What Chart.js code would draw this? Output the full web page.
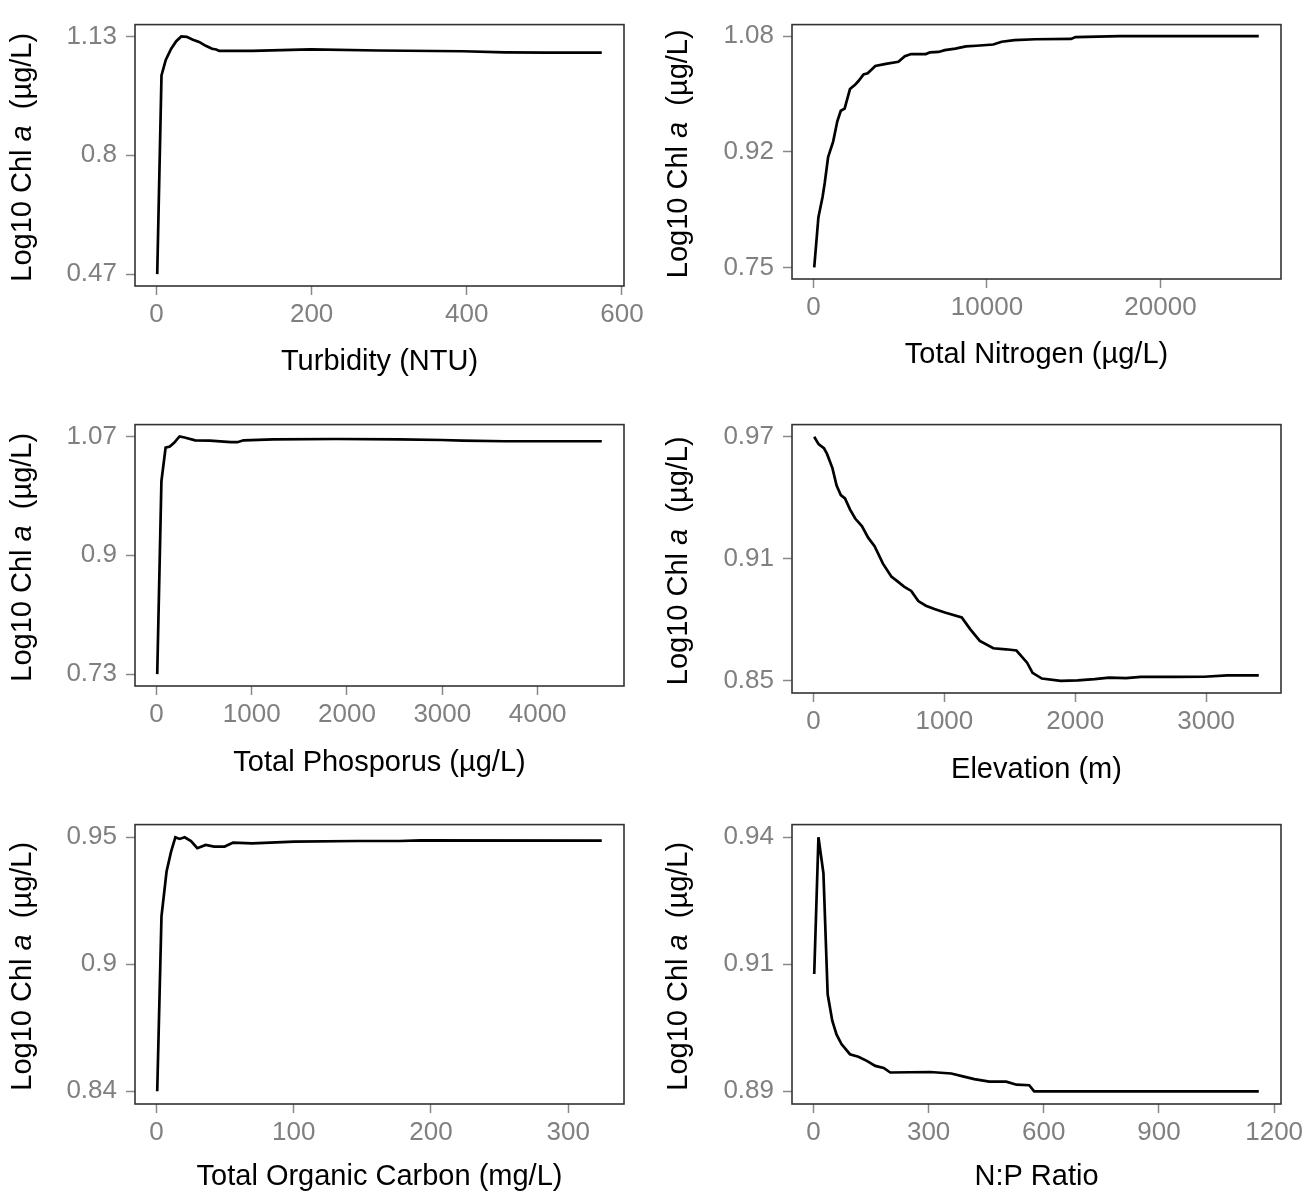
<!DOCTYPE html>
<html>
<head>
  <title>Log10 Chl a partial dependence</title>
  <script src="https://cdn.jsdelivr.net/npm/chart.js"></script>
  <style>
    body { margin: 0; background: #fff; }
    canvas { position: absolute; }
  </style>
</head>
<body>
  <canvas id="p1"></canvas>
  <canvas id="p2"></canvas>
  <canvas id="p3"></canvas>
  <canvas id="p4"></canvas>
  <canvas id="p5"></canvas>
  <canvas id="p6"></canvas>

  <script>
    // Turbidity
    const turbX = [1, 6.5, 12, 19, 25.5, 32, 39, 47, 55, 63.5, 71.7, 77, 81, 123, 199, 286, 395, 449, 503, 574];
    const turbY = [0.47, 1.022, 1.065, 1.096, 1.117, 1.13, 1.129, 1.121, 1.115, 1.104, 1.096, 1.094, 1.09, 1.09, 1.094, 1.091, 1.089, 1.086, 1.085, 1.085];
    const turbXTicks = [0, 200, 400, 600];
    const turbYTicks = [0.47, 0.8, 1.13];
    const turbYLabels = ["0.47", "0.8", "1.13"];

    // Total nitrogen
    const tnX = [50, 290, 530, 655, 850, 1140, 1380, 1580, 1800, 2110, 2400, 2600, 2890, 3130, 3570, 4175, 4900, 5270, 5630, 6480, 6720, 7210, 7570, 8180, 8790, 9390, 10360, 10850, 11580, 12790, 14850, 15100, 17650, 25660];
    const tnY = [0.7505, 0.822, 0.851, 0.871, 0.908, 0.930, 0.959, 0.974, 0.977, 1.005, 1.011, 1.0165, 1.026, 1.0275, 1.038, 1.041, 1.044, 1.052, 1.055, 1.055, 1.0575, 1.058, 1.0606, 1.0628, 1.066, 1.0668, 1.0686, 1.0725, 1.0748, 1.0761, 1.0765, 1.0792, 1.0805, 1.0805];
    const tnXTicks = [0, 10000, 20000];
    const tnYTicks = [0.7505, 0.9155, 1.0805];
    const tnYLabels = ["0.75", "0.92", "1.08"];

    // Total phosphorus
    const tpX = [9, 53, 97, 141, 186, 243, 296, 407, 561, 782, 849, 915, 1225, 1888, 2551, 2993, 3214, 3656, 4673];
    const tpY = [0.73, 1.006, 1.054, 1.0555, 1.061, 1.07, 1.0686, 1.0645, 1.0641, 1.0618, 1.0618, 1.0645, 1.0659, 1.0664, 1.0659, 1.065, 1.0641, 1.0632, 1.0632];
    const tpXTicks = [0, 1000, 2000, 3000, 4000];
    const tpYTicks = [0.73, 0.9, 1.07];
    const tpYLabels = ["0.73", "0.9", "1.07"];

    // Elevation
    const elevX = [6, 39, 80, 103, 145, 177, 209, 241, 280, 319, 370, 418, 467, 531, 595, 640, 692, 747, 801, 859, 924, 1004, 1133, 1197, 1271, 1374, 1471, 1551, 1632, 1674, 1745, 1889, 2018, 2147, 2259, 2388, 2501, 2758, 2984, 3161, 3402];
    const elevY = [0.97, 0.9664, 0.9644, 0.9617, 0.9546, 0.946, 0.9413, 0.9397, 0.9342, 0.9298, 0.9261, 0.9204, 0.9162, 0.9076, 0.9013, 0.899, 0.8963, 0.8942, 0.8892, 0.8869, 0.8853, 0.8836, 0.8812, 0.8754, 0.8696, 0.866, 0.8655, 0.8649, 0.8589, 0.8539, 0.8511, 0.85, 0.8502, 0.8508, 0.8516, 0.8513, 0.8519, 0.8519, 0.852, 0.8527, 0.8527];
    const elevXTicks = [0, 1000, 2000, 3000];
    const elevYTicks = [0.85, 0.91, 0.97];
    const elevYLabels = ["0.85", "0.91", "0.97"];

    // Total organic carbon
    const tocX = [0.6, 3.7, 7.4, 10.7, 13.8, 16.9, 20.6, 25.2, 29.8, 35.9, 42.1, 49.7, 55.9, 69.7, 100.4, 146.5, 177.2, 192.5, 324.5];
    const tocY = [0.8405, 0.9163, 0.9357, 0.9443, 0.9505, 0.9498, 0.9505, 0.9489, 0.9458, 0.9472, 0.9465, 0.9465, 0.9482, 0.9479, 0.9486, 0.9489, 0.9489, 0.9492, 0.9491];
    const tocXTicks = [0, 100, 200, 300];
    const tocYTicks = [0.8405, 0.8955, 0.9505];
    const tocYLabels = ["0.84", "0.9", "0.95"];

    // N:P ratio
    const npX = [2, 13, 26, 37, 49, 60, 73, 95, 117, 139, 161, 183, 200, 304, 359, 392, 419, 458, 502, 529, 562, 575, 688, 1160];
    const npY = [0.9126, 0.9395, 0.9324, 0.9086, 0.9034, 0.9007, 0.8988, 0.8968, 0.8963, 0.8955, 0.8945, 0.8941, 0.8932, 0.8933, 0.893, 0.8924, 0.8919, 0.8914, 0.8914, 0.8908, 0.8907, 0.8895, 0.8895, 0.8895];
    const npXTicks = [0, 300, 600, 900, 1200];
    const npYTicks = [0.8895, 0.9145, 0.9395];
    const npYLabels = ["0.89", "0.91", "0.94"];

    const FONT = '"Liberation Sans", Arial, Helvetica, sans-serif';
    Chart.defaults.font.family = FONT;

    // page layout: canvas [left, top, w, h], plot box [left, top, right, bottom], x title centre y
    const panels = [
      { id: "p1", xs: turbX, ys: turbY, xt: turbXTicks, yt: turbYTicks, yl: turbYLabels, title: "Turbidity (NTU)",
        canvas: [0, 0, 656, 395], box: [135, 7, 624, 286], titleY: 362 },
      { id: "p2", xs: tnX, ys: tnY, xt: tnXTicks, yt: tnYTicks, yl: tnYLabels, title: "Total Nitrogen (µg/L)",
        canvas: [656, 0, 660, 395], box: [792, 6, 1281, 279], titleY: 355 },
      { id: "p3", xs: tpX, ys: tpY, xt: tpXTicks, yt: tpYTicks, yl: tpYLabels, title: "Total Phosporus (µg/L)",
        canvas: [0, 400, 656, 395], box: [135, 415, 624, 686], titleY: 763 },
      { id: "p4", xs: elevX, ys: elevY, xt: elevXTicks, yt: elevYTicks, yl: elevYLabels, title: "Elevation (m)",
        canvas: [656, 400, 660, 395], box: [792, 415, 1281, 693], titleY: 770 },
      { id: "p5", xs: tocX, ys: tocY, xt: tocXTicks, yt: tocYTicks, yl: tocYLabels, title: "Total Organic Carbon (mg/L)",
        canvas: [0, 800, 656, 398], box: [135, 824, 624, 1104], titleY: 1177 },
      { id: "p6", xs: npX, ys: npY, xt: npXTicks, yt: npYTicks, yl: npYLabels, title: "N:P Ratio",
        canvas: [656, 800, 660, 398], box: [792, 824, 1281, 1104], titleY: 1177 }
    ];

    // panel border + y title with italic "a"
    const frame = {
      id: "frame",
      afterDraw(chart) {
        const { ctx, chartArea: a } = chart;
        ctx.save();
        ctx.strokeStyle = "#333";
        ctx.lineWidth = 1.6;
        ctx.strokeRect(a.left, a.top, a.right - a.left, a.bottom - a.top);

        const parts = [["Log10 Chl ", ""], ["a", "italic "], ["  (µg/L)", ""]];
        ctx.translate(23, (a.top + a.bottom) / 2 + 2);
        ctx.rotate(-Math.PI / 2);
        ctx.fillStyle = "#000";
        ctx.textBaseline = "middle";
        ctx.textAlign = "left";
        let total = 0;
        const widths = parts.map(([t, s]) => {
          ctx.font = s + "29px " + FONT;
          const w = ctx.measureText(t).width;
          total += w;
          return w;
        });
        let x = -total / 2;
        parts.forEach(([t, s], i) => {
          ctx.font = s + "29px " + FONT;
          ctx.fillText(t, x, 0);
          x += widths[i];
        });
        ctx.restore();
      }
    };

    panels.forEach(p => {
      const [cl, ct, cw, ch] = p.canvas;
      const [bl, bt, br, bb] = p.box;
      const el = document.getElementById(p.id);
      el.width = cw;
      el.height = ch;
      el.style.left = cl + "px";
      el.style.top = ct + "px";

      const xmin = Math.min(...p.xs), xmax = Math.max(...p.xs);
      const ymin = Math.min(...p.ys), ymax = Math.max(...p.ys);
      const xpad = (xmax - xmin) * 0.05, ypad = (ymax - ymin) * 0.05;

      new Chart(el, {
        type: "line",
        data: {
          datasets: [{
            data: p.xs.map((x, i) => ({ x: x, y: p.ys[i] })),
            borderColor: "#000",
            borderWidth: 2.7,
            pointRadius: 0,
            tension: 0,
            fill: false
          }]
        },
        options: {
          responsive: false,
          animation: false,
          devicePixelRatio: 1,
          layout: { padding: { left: 0, top: bt - ct, right: cl + cw - br, bottom: 0 } },
          plugins: { legend: { display: false }, tooltip: { enabled: false } },
          scales: {
            x: {
              type: "linear",
              min: xmin - xpad,
              max: xmax + xpad,
              afterBuildTicks: s => { s.ticks = p.xt.map(v => ({ value: v })); },
              afterFit: s => { s.height = ct + ch - bb; },
              grid: { drawOnChartArea: false, drawTicks: true, tickLength: 9, color: "#888", tickWidth: 1.5 },
              border: { display: false },
              ticks: { color: "#808080", font: { size: 26 }, padding: 4, maxRotation: 0, autoSkip: false,
                       callback: v => String(v) },
              title: { display: true, text: p.title, color: "#000", font: { size: 29 },
                       padding: { top: 0, bottom: ct + ch - p.titleY - 17.4 } }
            },
            y: {
              min: ymin - ypad,
              max: ymax + ypad,
              afterBuildTicks: s => { s.ticks = p.yt.map(v => ({ value: v })); },
              afterFit: s => { s.width = bl - cl; },
              grid: { drawOnChartArea: false, drawTicks: true, tickLength: 9, color: "#888", tickWidth: 1.5 },
              border: { display: false },
              ticks: { color: "#808080", font: { size: 26 }, padding: 9,
                       callback: (v, i) => p.yl[i] }
            }
          }
        },
        plugins: [frame]
      });
    });
  </script>
</body>
</html>
